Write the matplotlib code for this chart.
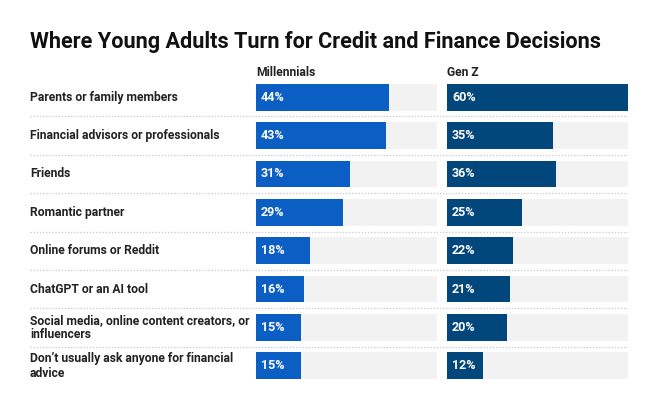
import matplotlib.pyplot as plt
import matplotlib.transforms as mtransforms

# data
sources = [
    'Parents or family members',
    'Financial advisors or professionals',
    'Friends',
    'Romantic partner',
    'Online forums or Reddit',
    'ChatGPT or an AI tool',
    'Social media, online content creators, or\ninfluencers',
    'Don\u2019t usually ask anyone for financial\nadvice',
]
millennials = [44, 43, 31, 29, 18, 16, 15, 15]
gen_z = [60, 35, 36, 25, 22, 21, 20, 12]
groups = ['Millennials', 'Gen Z']

plt.rcParams['font.family'] = ['Roboto', 'DejaVu Sans']

W, H = 653, 399
fig = plt.figure(figsize=(W / 100, H / 100), dpi=100)

def px_rect(x0, y0, x1, y1):
    # pixel box (top-left origin) -> figure fraction rect
    return [x0 / W, 1 - y1 / H, (x1 - x0) / W, (y1 - y0) / H]

top, bottom = 78, 385
n = len(sources)

# background axes for row labels and dotted separators
bg = fig.add_axes(px_rect(30, top, 628, bottom))
bg.set_xlim(0, 1)
bg.set_ylim(n - 0.5, -0.5)
bg.axis('off')
for i in range(n - 1):
    bg.axhline(i + 0.5, color='#c8c8c8', linestyle=(0, (1, 1.5)), linewidth=0.9)
for i, label in enumerate(sources):
    bg.text(0, i, label, ha='left', va='center', fontsize=8.7,
            fontweight='bold', color='#222222', linespacing=1.15)

colors = ['#0b5ec3', '#02477b']
cols = [(256, 437), (447, 628)]
for values, name, color, (x0, x1) in zip([millennials, gen_z], groups, colors, cols):
    ax = fig.add_axes(px_rect(x0, top, x1, bottom))
    ax.set_xlim(0, 60)
    ax.set_ylim(n - 0.5, -0.5)
    ax.axis('off')
    ypos = range(n)
    ax.barh(ypos, [60] * n, height=0.7, color='#f2f2f2', zorder=1)
    ax.barh(ypos, values, height=0.7, color=color, zorder=2)
    offset = mtransforms.offset_copy(ax.transData, fig=fig, x=5, y=0, units='dots')
    for i, v in enumerate(values):
        ax.text(0, i, f'{v}%', transform=offset, ha='left', va='center',
                fontsize=9, fontweight='bold', color='white', zorder=3)
    fig.text(x0 / W, 1 - 72 / H, name, ha='left', va='center',
             fontsize=8.7, fontweight='bold', color='#222222')

fig.text(30 / W, 1 - 42 / H, 'Where Young Adults Turn for Credit and Finance Decisions',
         ha='left', va='center', fontsize=15.6, fontweight='bold', color='#111111')

fig.savefig('out.png', dpi=100)
